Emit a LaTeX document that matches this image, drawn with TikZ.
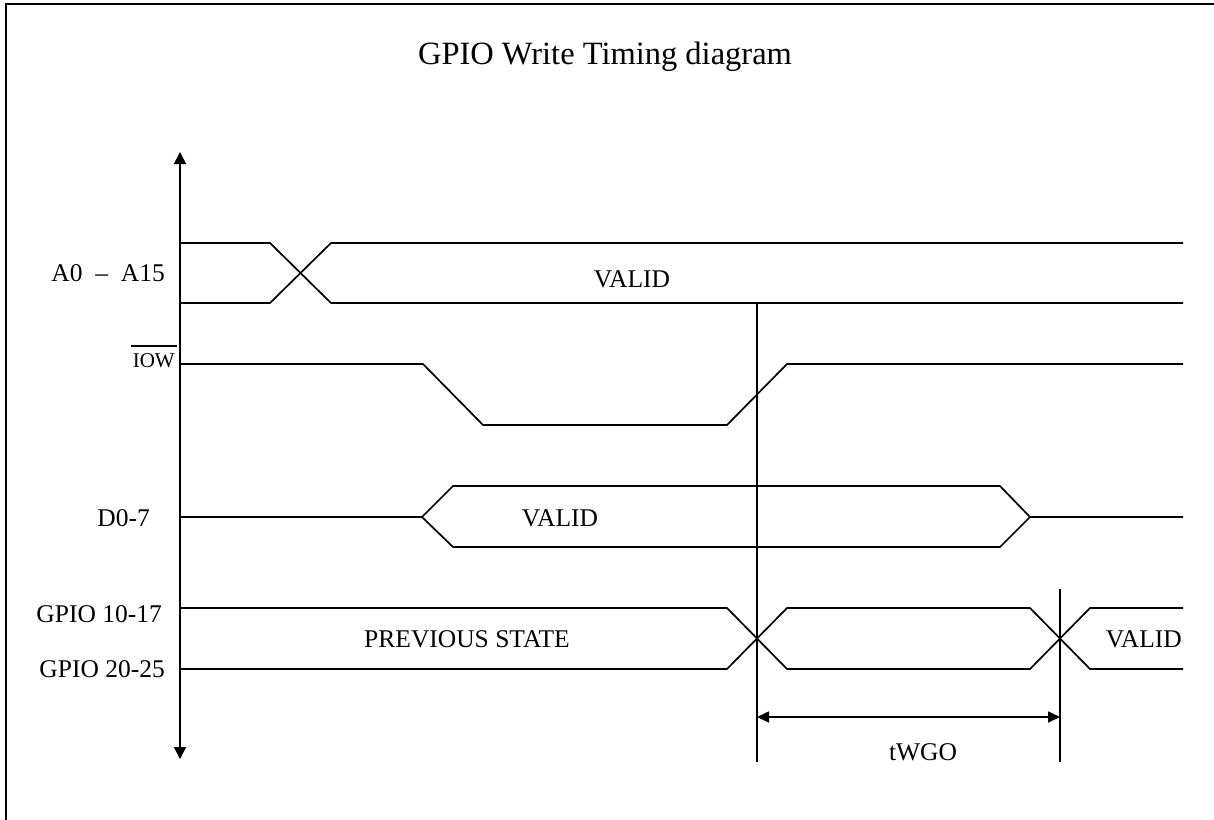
\documentclass[tikz,border=0pt]{standalone}
\usepackage{fontspec}
\setmainfont{Liberation Serif}
\usetikzlibrary{arrows.meta}
\begin{document}
\begin{tikzpicture}[x=1pt,y=-1pt,
  sig/.style={line width=1.7pt, line join=miter},
  frameline/.style={line width=2.6pt},
  lbl/.style={font=\fontsize{25.5}{28}\selectfont, inner sep=0pt},
  smalllbl/.style={font=\fontsize{21}{24}\selectfont, inner sep=0pt},
  titlefont/.style={font=\fontsize{32.5}{36}\selectfont, inner sep=0pt},
  axisarrow/.style={line width=1.7pt, {Triangle[length=12pt,width=12pt]}-{Triangle[length=12pt,width=12pt]}},
  dimarrow/.style={line width=1.7pt, {Triangle[length=12pt,width=11pt]}-{Triangle[length=12pt,width=11pt]}},
]
\useasboundingbox (0,0) rectangle (1214,819);
% frame
\draw[frameline] (6,822) -- (6,4) -- (1220,4);
% title
\node[titlefont, anchor=base] (title) at (605,64) {GPIO Write Timing diagram};
% axis
\coordinate (axT) at (180,152);
\coordinate (axB) at (180,759);
\draw[axisarrow] (axB) -- (axT);
% address bus
\draw[sig] (180,243) -- (270,243) -- (331,303) -- (1183,303);
\draw[sig] (180,303) -- (270,303) -- (331,243) -- (1183,243);
% IOW
\draw[sig] (180,364) -- (423,364) -- (483,425) -- (727,425) -- (787,364) -- (1183,364);
% data bus
\draw[sig] (180,517) -- (422,517) -- (453,486) -- (1000,486) -- (1030,517) -- (1183,517);
\draw[sig] (422,517) -- (453,547) -- (1000,547) -- (1030,517);
% GPIO
\draw[sig] (180,608) -- (727,608) -- (787,669) -- (1030,669) -- (1090,608) -- (1183,608);
\draw[sig] (180,669) -- (727,669) -- (787,608) -- (1030,608) -- (1090,669) -- (1183,669);
% reference lines
\coordinate (v1t) at (757,303);
\coordinate (v1b) at (757,762);
\coordinate (v2t) at (1060,589);
\coordinate (v2b) at (1060,762);
\draw[sig] (v1t) -- (v1b);
\draw[sig] (v2t) -- (v2b);
\coordinate (d1) at (757,717);
\coordinate (d2) at (1060,717);
\draw[dimarrow] (d1) -- (d2);
% labels
\node[lbl, anchor=base east] (la) at (165,281) {A0\ \ –\ \ A15};
\node[smalllbl, anchor=base east] (liow) at (175,367) {IOW};
\draw[line width=1.2pt] ([xshift=-2pt,yshift=7pt]liow.north west) -- ([xshift=2pt,yshift=7pt]liow.north east);
\node[lbl, anchor=base east] (ld) at (150,526) {D0-7};
\node[lbl, anchor=base east] (lg1) at (162,622) {GPIO 10-17};
\node[lbl, anchor=base east] (lg2) at (165,677) {GPIO 20-25};
\node[lbl, anchor=base] (va) at (632,287) {VALID};
\node[lbl, anchor=base] (vd) at (560,526) {VALID};
\node[lbl, anchor=base] (prev) at (467,647) {PREVIOUS STATE};
\node[lbl, anchor=base east] (vg) at (1182,647) {VALID};
\node[lbl, anchor=base] (tw) at (923,760) {tWGO};
\end{tikzpicture}
\end{document}
